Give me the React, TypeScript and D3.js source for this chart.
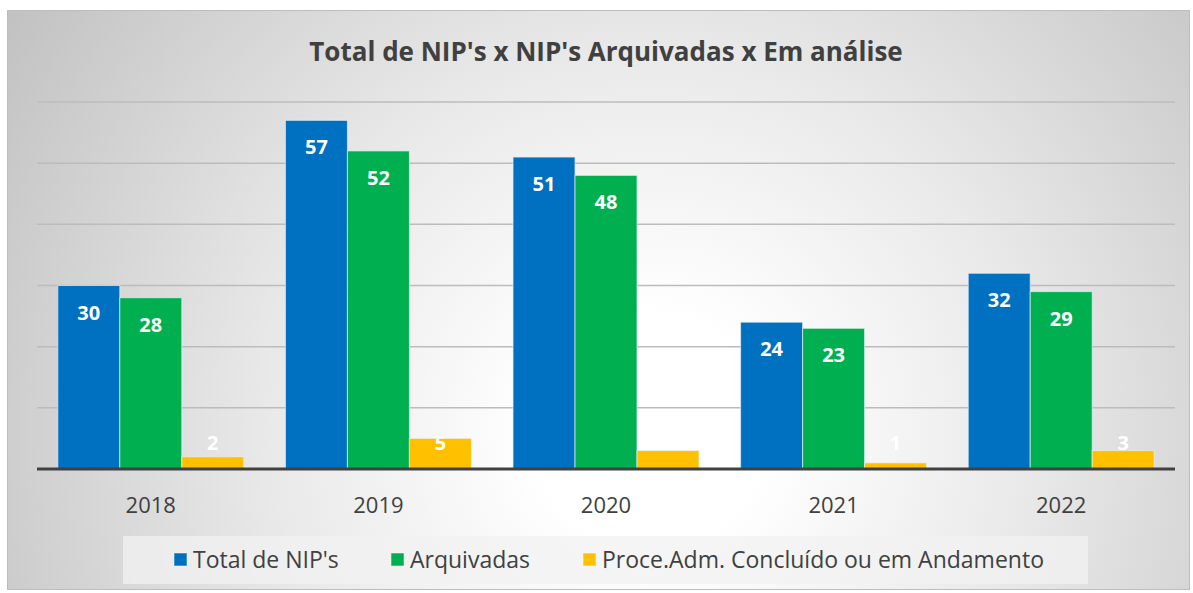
import React from 'react';
import * as d3 from 'd3';

const years = ['2018', '2019', '2020', '2021', '2022'];
const seriesNames = ["Total de NIP's", 'Arquivadas', 'Proce.Adm. Concluído ou em Andamento'];
const totalNips = [30, 57, 51, 24, 32];
const arquivadas = [28, 52, 48, 23, 29];
const proceAdm = [2, 5, 3, 1, 3];
const colors = ['#0070C0', '#00B050', '#FFC000'];
const gridTicks = [0, 10, 20, 30, 40, 50, 60];

const W = 1193;
const H = 593;
const font = "'Open Sans', 'Noto Sans', sans-serif";

export default function App() {
  const series = [totalNips, arquivadas, proceAdm];

  const x = d3.scaleBand().domain(years).range([37, 1175]).paddingInner(0.183).paddingOuter(0.0915);
  const inner = d3.scaleBand().domain(['0', '1', '2']).range([0, x.bandwidth()]);
  const y = d3.scaleLinear().domain([0, 60]).range([469, 102]);

  return (
    <svg width={W} height={H} style={{ position: 'absolute', left: 0, top: 0 }}>
      <defs>
        <radialGradient id="bg" cx={650} cy={430} r={760} fx={650} fy={430} gradientUnits="userSpaceOnUse">
          <stop offset="0" stopColor="#ffffff" />
          <stop offset="0.15" stopColor="#ffffff" />
          <stop offset="0.5" stopColor="#e9e9e9" />
          <stop offset="1" stopColor="#c2c2c2" />
        </radialGradient>
      </defs>
      <rect x={0} y={0} width={W} height={H} fill="#ffffff" />
      <rect x={7.5} y={10.5} width={1182} height={579} fill="url(#bg)" stroke="#bdbdbd" strokeWidth={1} />
      <text x={606} y={52} dy="0.35em" textAnchor="middle" fontFamily={font} fontWeight={700} fontSize={26} fill="#404040">
        Total de NIP's x NIP's Arquivadas x Em análise
      </text>

      {gridTicks.filter(t => t > 0).map(t => (
        <line key={t} x1={37} x2={1175} y1={y(t)} y2={y(t)} stroke="#bcbcbc" strokeWidth={1.5} />
      ))}

      {years.map((yr, i) => (
        <g key={yr} transform={`translate(${x(yr)},0)`}>
          {series.map((s, j) => {
            const bx = inner(String(j)) as number;
            const top = y(s[i]);
            const ly = Math.min(top + 27, 443);
            return (
              <g key={j}>
                <rect x={bx} y={top} width={inner.bandwidth()} height={y(0) - top} fill={colors[j]} stroke="#e8f0f8" strokeOpacity={0.7} strokeWidth={1} />
                <text x={bx + inner.bandwidth() / 2} y={ly} dy="0.35em" textAnchor="middle" fontFamily={font} fontWeight={700} fontSize={20} fill="#ffffff">
                  {s[i]}
                </text>
              </g>
            );
          })}
          <text x={x.bandwidth() / 2} y={505} dy="0.35em" textAnchor="middle" fontFamily={font} fontSize={22} fill="#404040">
            {yr}
          </text>
        </g>
      ))}

      <line x1={37} x2={1175} y1={y(0)} y2={y(0)} stroke="#404040" strokeWidth={3} />

      <rect x={123} y={536} width={965} height={48} fill="#f2f2f2" fillOpacity={0.75} />
      {[
        { x: 174 },
        { x: 391 },
        { x: 583 },
      ].map((p, j) => (
        <g key={j}>
          <rect x={p.x} y={553} width={13} height={13} fill={colors[j]} stroke="#ffffff" strokeOpacity={0.5} />
          <text x={p.x + 19} y={560} dy="0.35em" fontFamily={font} fontSize={23} fill="#404040">
            {seriesNames[j]}
          </text>
        </g>
      ))}
    </svg>
  );
}
